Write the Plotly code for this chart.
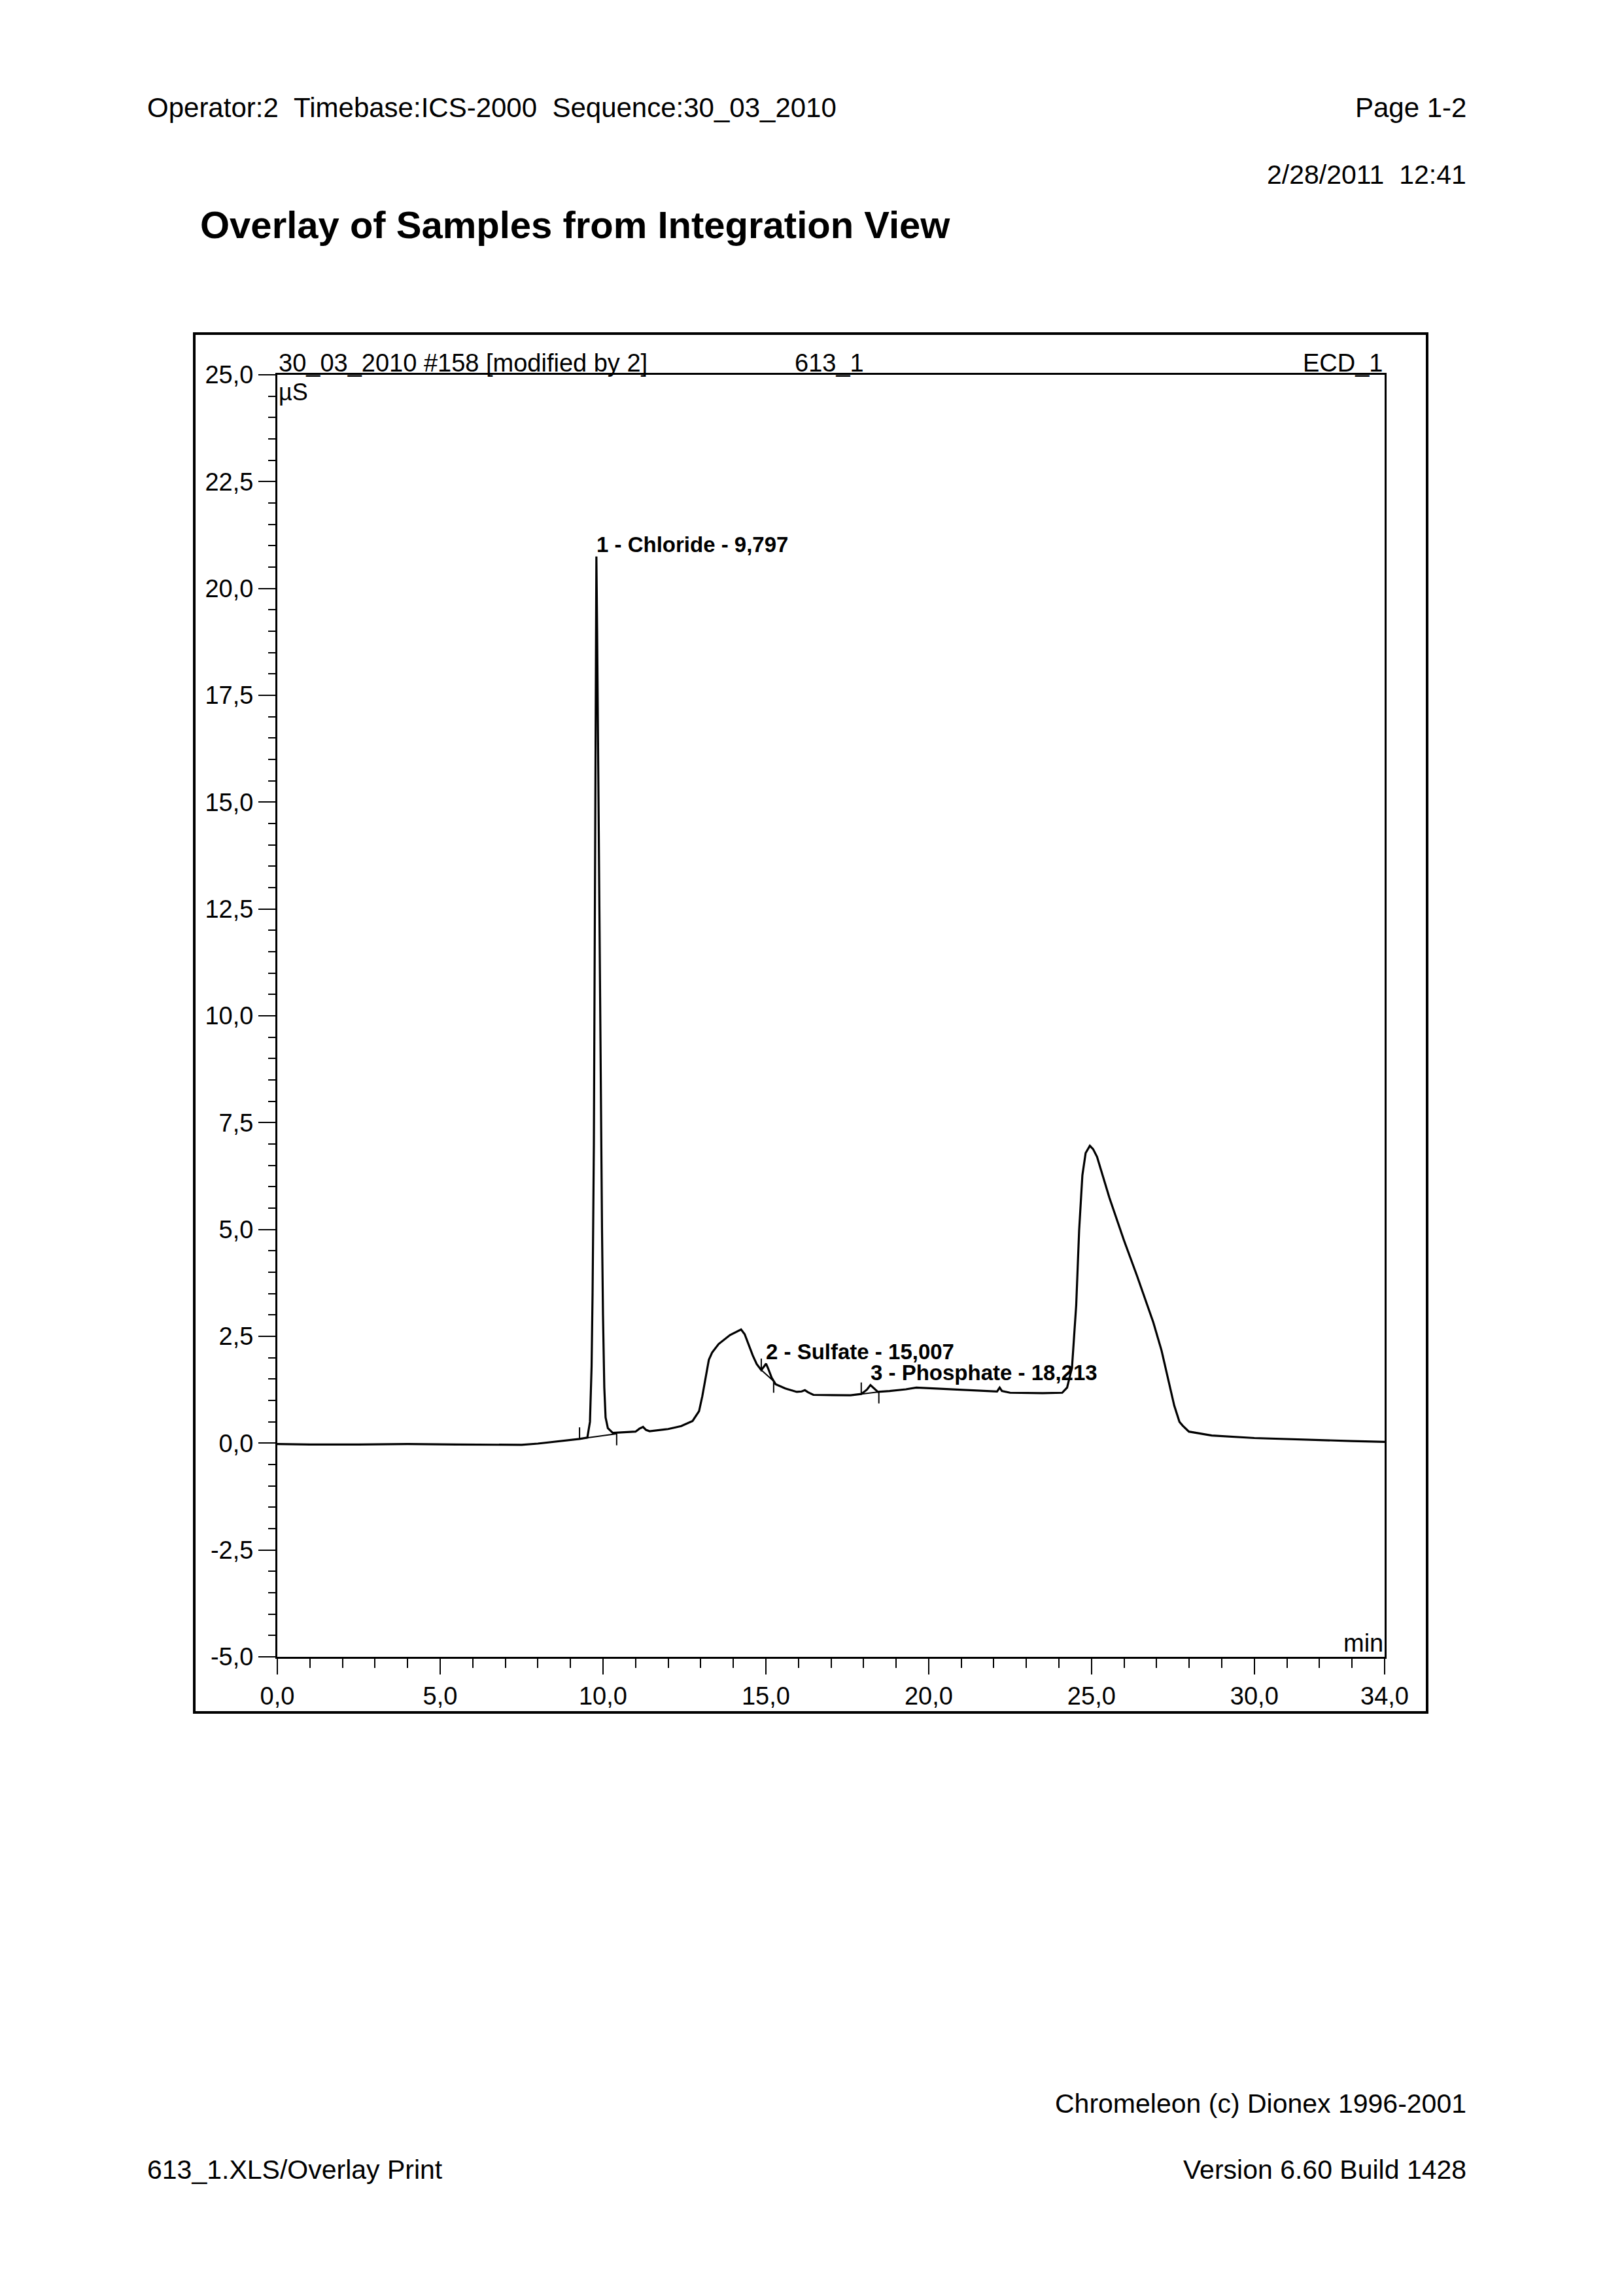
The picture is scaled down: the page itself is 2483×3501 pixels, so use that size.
import plotly.graph_objects as go

# ---------------- data ----------------
time_min = [0.0, 1.0, 2.5, 4.0, 5.5, 6.5, 7.5, 8.0, 8.5, 9.0, 9.28, 9.52,
            9.60, 9.65, 9.68, 9.72, 9.74, 9.77, 9.797, 9.82, 9.86, 9.90, 9.94,
            9.97, 10.0, 10.04, 10.08, 10.15, 10.30, 10.6, 11.0, 11.12, 11.23,
            11.32, 11.43, 12.0, 12.4, 12.75, 12.95, 13.05, 13.15, 13.25, 13.35,
            13.55, 13.9, 14.24, 14.35, 14.47, 14.6, 14.72, 14.86, 14.95, 15.007,
            15.07, 15.18, 15.3, 15.6, 15.95, 16.1, 16.2, 16.3, 16.46, 17.0,
            17.6, 17.93, 18.1, 18.213, 18.3, 18.44, 18.8, 19.3, 19.62, 20.2,
            21.2, 22.1, 22.18, 22.25, 22.5, 23.5, 24.1, 24.25, 24.4, 24.53,
            24.62, 24.72, 24.82, 24.95, 25.05, 25.17, 25.55, 26.0, 26.39, 26.9,
            27.15, 27.35, 27.54, 27.7, 27.8, 27.99, 28.69, 30.0, 31.5, 33.0,
            34.0]
signal_uS = [-0.02, -0.03, -0.03, -0.02, -0.03, -0.04, -0.04, -0.01, 0.03,
             0.07, 0.10, 0.13, 0.5, 1.8, 3.5, 7.0, 10.0, 15.0, 20.75, 19.0,
             15.0, 11.0, 8.0, 5.0, 3.0, 1.3, 0.6, 0.35, 0.24, 0.25, 0.27, 0.34,
             0.38, 0.31, 0.28, 0.33, 0.40, 0.52, 0.75, 1.1, 1.5, 1.95, 2.12,
             2.32, 2.53, 2.66, 2.55, 2.30, 2.05, 1.85, 1.71, 1.80, 1.86, 1.75,
             1.53, 1.38, 1.28, 1.20, 1.21, 1.24, 1.19, 1.13, 1.12, 1.12, 1.15,
             1.25, 1.36, 1.30, 1.20, 1.22, 1.26, 1.30, 1.28, 1.24, 1.21, 1.30,
             1.22, 1.18, 1.17, 1.18, 1.30, 1.76, 3.23, 4.98, 6.27, 6.79, 6.96,
             6.88, 6.70, 5.74, 4.74, 3.93, 2.82, 2.17, 1.50, 0.88, 0.50, 0.41,
             0.27, 0.18, 0.12, 0.08, 0.05, 0.03]

peak_numbers = [1, 2, 3]
peak_names = ["Chloride", "Sulfate", "Phosphate"]
peak_rt = [9.797, 15.007, 18.213]
peak_rt_text = ["9,797", "15,007", "18,213"]
peak_height = [20.75, 1.86, 1.36]

peak_start_t = [9.28, 14.86, 17.93]
peak_start_v = [0.10, 1.71, 1.15]
peak_end_t = [10.42, 15.24, 18.47]
peak_end_v = [0.22, 1.45, 1.20]

x_tickvals = [0, 5, 10, 15, 20, 25, 30, 34]
x_ticktext = ["0,0", "5,0", "10,0", "15,0", "20,0", "25,0", "30,0", "34,0"]
y_tickvals = [-5, -2.5, 0, 2.5, 5, 7.5, 10, 12.5, 15, 17.5, 20, 22.5, 25]
y_ticktext = ["-5,0", "-2,5", "0,0", "2,5", "5,0", "7,5", "10,0", "12,5",
              "15,0", "17,5", "20,0", "22,5", "25,0"]

# ---------------- layout constants ----------------
W, H = 2483, 3501
OX, OY = 8, 7          # compensate the page's body margin
FONT = "Liberation Sans, Arial, sans-serif"
DELIM_LEN = 0.27


def px(x):
    return (x - OX) / W


def py(y):
    return 1 - (y - OY) / H


fig = go.Figure()

fig.add_trace(go.Scatter(x=time_min, y=signal_uS, mode="lines",
                         line=dict(color="black", width=3.2), hoverinfo="skip",
                         showlegend=False))

# integration delimiters & baselines
dx, dy = [], []
for ts, vs, te, ve in zip(peak_start_t, peak_start_v, peak_end_t, peak_end_v):
    dx += [ts, ts, None, te, te, None, ts, te, None]
    dy += [vs, vs + DELIM_LEN, None, ve, ve - DELIM_LEN, None, vs, ve, None]
fig.add_trace(go.Scatter(x=dx, y=dy, mode="lines",
                         line=dict(color="black", width=2), hoverinfo="skip",
                         showlegend=False))

annotations = []
# peak labels
for n, name, rt, rtt, h in zip(peak_numbers, peak_names, peak_rt, peak_rt_text, peak_height):
    annotations.append(dict(x=rt, y=h, xref="x", yref="y", xanchor="left",
                            yanchor="bottom", showarrow=False,
                            text=f"<b>{n} - {name} - {rtt}</b>",
                            font=dict(family=FONT, size=33, color="black"),
                            xshift=-2, yshift=-2))

# texts inside chart frame
annotations += [
    dict(x=0, y=25, xref="x", yref="y", xanchor="left", yanchor="bottom",
         text="30_03_2010 #158 [modified by 2]", showarrow=False, yshift=-5,
         font=dict(family=FONT, size=38, color="black")),
    dict(x=16.95, y=25, xref="x", yref="y", xanchor="center", yanchor="bottom",
         text="613_1", showarrow=False, yshift=-5,
         font=dict(family=FONT, size=38, color="black")),
    dict(x=34, y=25, xref="x", yref="y", xanchor="right", yanchor="bottom",
         text="ECD_1", showarrow=False, yshift=-5,
         font=dict(family=FONT, size=38, color="black")),
    dict(x=0, y=25, xref="x", yref="y", xanchor="left", yanchor="top",
         text="µS", showarrow=False, xshift=0, yshift=-4,
         font=dict(family=FONT, size=36, color="black")),
    dict(x=34, y=-5, xref="x", yref="y", xanchor="right", yanchor="bottom",
         text="min", showarrow=False, yshift=-2,
         font=dict(family=FONT, size=38, color="black")),
]

# page texts
annotations += [
    dict(x=px(223), y=py(163), xref="paper", yref="paper", xanchor="left",
         yanchor="middle", showarrow=False,
         text="Operator:2\u00a0\u00a0Timebase:ICS-2000\u00a0\u00a0Sequence:30_03_2010",
         font=dict(family=FONT, size=42, color="black")),
    dict(x=px(2244), y=py(163), xref="paper", yref="paper", xanchor="right",
         yanchor="middle", showarrow=False, text="Page 1-2",
         font=dict(family=FONT, size=42, color="black")),
    dict(x=px(2244), y=py(266), xref="paper", yref="paper", xanchor="right",
         yanchor="middle", showarrow=False, text="2/28/2011\u00a0\u00a012:41",
         font=dict(family=FONT, size=41, color="black")),
    dict(x=px(304), y=py(342), xref="paper", yref="paper", xanchor="left",
         yanchor="middle", showarrow=False,
         text="<b>Overlay of Samples from Integration View</b>",
         font=dict(family=FONT, size=58, color="black")),
    dict(x=px(2244), y=py(3215), xref="paper", yref="paper", xanchor="right",
         yanchor="middle", showarrow=False, text="Chromeleon (c) Dionex 1996-2001",
         font=dict(family=FONT, size=41, color="black")),
    dict(x=px(2244), y=py(3316), xref="paper", yref="paper", xanchor="right",
         yanchor="middle", showarrow=False, text="Version 6.60 Build 1428",
         font=dict(family=FONT, size=41, color="black")),
    dict(x=px(223), y=py(3316), xref="paper", yref="paper", xanchor="left",
         yanchor="middle", showarrow=False, text="613_1.XLS/Overlay Print",
         font=dict(family=FONT, size=41, color="black")),
]

fig.update_layout(
    width=W, height=H, autosize=False,
    margin=dict(l=0, r=0, t=0, b=0, pad=0, autoexpand=False),
    paper_bgcolor="white", plot_bgcolor="white",
    showlegend=False,
    annotations=annotations,
    shapes=[dict(type="rect", xref="paper", yref="paper",
                 x0=px(297), x1=px(2182), y0=py(2617), y1=py(509),
                 line=dict(color="black", width=4), fillcolor="rgba(0,0,0,0)")],
    xaxis=dict(domain=[px(424), px(2117)], range=[0, 34], showgrid=False,
               automargin=False,
               zeroline=False, showline=True, linecolor="black", linewidth=3,
               mirror=True, ticks="outside", ticklen=24, tickwidth=2,
               tickcolor="black", tickmode="array", tickvals=x_tickvals,
               ticktext=x_ticktext,
               tickfont=dict(family=FONT, size=38, color="black"),
               minor=dict(tickmode="linear", tick0=0, dtick=1, ticks="outside",
                          ticklen=14, tickwidth=2, tickcolor="black",
                          showgrid=False)),
    yaxis=dict(domain=[py(2532), py(572)], range=[-5, 25], showgrid=False,
               automargin=False,
               zeroline=False, showline=True, linecolor="black", linewidth=3,
               mirror=True, ticks="outside", ticklen=26, tickwidth=2,
               tickcolor="black", tickmode="array", tickvals=y_tickvals,
               ticktext=y_ticktext,
               tickfont=dict(family=FONT, size=38, color="black"),
               minor=dict(tickmode="linear", tick0=0, dtick=0.5, ticks="outside",
                          ticklen=11, tickwidth=2, tickcolor="black",
                          showgrid=False)),
)

fig.write_html("out.html")
